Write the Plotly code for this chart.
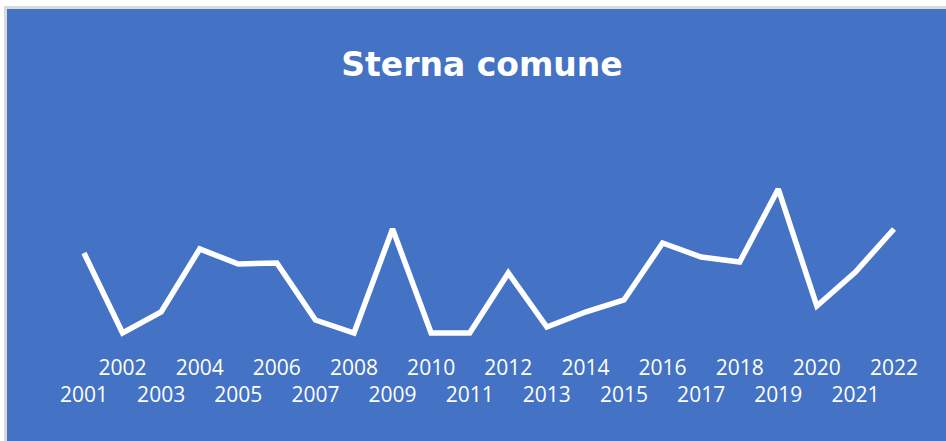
import plotly.graph_objects as go

# Data (no y axis shown; relative units)
years = list(range(2001, 2023))
values = [87, 7, 28, 91, 76, 77, 20, 7, 111, 7, 7, 67, 13, 28, 40, 97, 83, 78, 151, 34, 68, 111]
tick_labels = [str(y) if y % 2 == 0 else "<br>" + str(y) for y in years]

title_text = "Sterna comune"
BLUE = "#4472C4"
GREY = "#D9D9D9"

W, H = 946, 441
T, B = 100, 91          # margins (px)
plot_h = H - T - B      # 250

def ypaper(py):
    return (H - B - py) / plot_h

fig = go.Figure()
fig.add_trace(go.Scatter(
    x=years, y=values, mode="lines",
    line=dict(color="white", width=5.5),
    hoverinfo="skip",
))

shapes = [
    # white strip at top and left, grey frame lines
    dict(type="rect", xref="paper", yref="paper", x0=-0.01, x1=1.01,
         y0=ypaper(6), y1=ypaper(-10), fillcolor="white", line_width=0, layer="above"),
    dict(type="rect", xref="paper", yref="paper", x0=-0.01, x1=4 / W,
         y0=ypaper(460), y1=ypaper(-10), fillcolor="white", line_width=0, layer="above"),
    dict(type="rect", xref="paper", yref="paper", x0=4 / W, x1=1.01,
         y0=ypaper(9), y1=ypaper(6), fillcolor=GREY, line_width=0, layer="above"),
    dict(type="rect", xref="paper", yref="paper", x0=4 / W, x1=7 / W,
         y0=ypaper(460), y1=ypaper(6), fillcolor=GREY, line_width=0, layer="above"),
]

step = 810 / 21
fig.update_layout(
    width=W, height=H,
    margin=dict(l=0, r=0, t=T, b=B, pad=0),
    paper_bgcolor=BLUE,
    plot_bgcolor="rgba(0,0,0,0)",
    showlegend=False,
    title=dict(
        text="<b>" + title_text + "</b>",
        x=482 / W, xanchor="center",
        y=1 - 64 / H, yanchor="middle", yref="container",
        font=dict(family="DejaVu Sans", size=33, color="white"),
    ),
    xaxis=dict(
        range=[2001 - 84 / step, 2022 + (W - 894) / step],
        tickmode="array", tickvals=years, ticktext=tick_labels,
        tickangle=0,
        showgrid=False, zeroline=False, showline=False, ticks="",
        ticklabelstandoff=3,
        tickfont=dict(family="Open Sans", size=21, color="white"),
    ),
    yaxis=dict(
        range=[-10, 240],
        visible=False, showgrid=False, zeroline=False,
    ),
    shapes=shapes,
)

fig.write_html(
    "out.html",
    config={"displayModeBar": False},
    post_script="document.body.style.margin='0';document.body.style.overflow='hidden';",
)
